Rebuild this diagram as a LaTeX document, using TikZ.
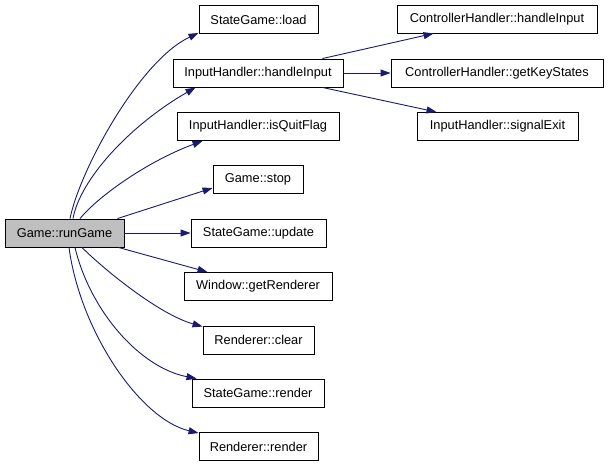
\documentclass[tikz,border=0pt]{standalone}
\usepackage{fontspec}
\setmainfont{Liberation Sans}
\usetikzlibrary{arrows.meta}
\definecolor{edgeblue}{RGB}{25,25,112}
\definecolor{rootgray}{RGB}{191,191,191}

\begin{document}
\begin{tikzpicture}[x=1pt, y=-1pt, line width=0.9pt,
		fn/.style={draw=black, fill=white, minimum height=28, inner sep=0pt, font=\fontsize{12.8}{15}\selectfont},
		call/.style={draw=edgeblue, -{Triangle[length=10,width=7]}, edgeblue}]
				% 1. canvas
				\useasboundingbox (0,0) rectangle (608,467);
				
				% 2. function boxes
				\node[fn, fill=rootgray, minimum width=119] (runGame) at (64.5,233) {Game::runGame};
				\node[fn, minimum width=119] (sgLoad) at (258.5,19.5) {StateGame::load};
				\node[fn, minimum width=170] (ihHandle) at (258,73) {InputHandler::handleInput};
				\node[fn, minimum width=162] (ihQuit) at (258,126.5) {InputHandler::isQuitFlag};
				\node[fn, minimum width=90] (gStop) at (258,179.5) {Game::stop};
				\node[fn, minimum width=135] (sgUpdate) at (258.5,233) {StateGame::update};
				\node[fn, minimum width=148] (wGetR) at (258,286.5) {Window::getRenderer};
				\node[fn, minimum width=111] (rClear) at (258.5,340) {Renderer::clear};
				\node[fn, minimum width=132] (sgRender) at (258,393) {StateGame::render};
				\node[fn, minimum width=119] (rRender) at (258.5,446.5) {Renderer::render};
				
				\node[fn, minimum width=200] (chHandle) at (497,19) {ControllerHandler::handleInput};
				\node[fn, minimum width=212] (chKeys) at (497,73) {ControllerHandler::getKeyStates};
				\node[fn, minimum width=161] (ihExit) at (497.5,126.5) {InputHandler::signalExit};
				
				% 3. calls from Game::runGame
				\draw[call] ([xshift=5.5]runGame.north) .. controls +(10,-49) and +(-59,27.5) .. ([yshift=1]sgLoad.south west);
				\draw[call] ([xshift=8.5]runGame.north) .. controls +(7,-39) and +(-66,38) .. ([xshift=23]ihHandle.south west);
				\draw[call] ([xshift=15.5]runGame.north) .. controls +(20,-24) and +(-53,19.5) .. ([xshift=26]ihQuit.south west);
				\draw[call] ([xshift=-7]runGame.north east) -- ([yshift=6]gStop.south west);
				\draw[call] (runGame.east) -- (sgUpdate.west);
				\draw[call] ([xshift=-6]runGame.south east) -- ([xshift=24]wGetR.north west);
				\draw[call] ([xshift=17.5]runGame.south) .. controls +(23,23) and +(-43,-12) .. ([yshift=-1]rClear.north west);
				\draw[call] ([xshift=10.5]runGame.south) .. controls +(15,63) and +(-57,-11) .. ([xshift=5]sgRender.north west);
				\draw[call] ([xshift=4.5]runGame.south) .. controls +(11,83) and +(-59,-14) .. ([yshift=-1]rRender.north west);
				
				% 4. calls from InputHandler::handleInput
				\draw[call] ([xshift=-21]ihHandle.north east) -- ([xshift=37]chHandle.south west);
				\draw[call] (ihHandle.east) -- (chKeys.west);
				\draw[call] ([xshift=-21]ihHandle.south east) -- ([xshift=20]ihExit.north west);
			\end{tikzpicture}
\end{document}
